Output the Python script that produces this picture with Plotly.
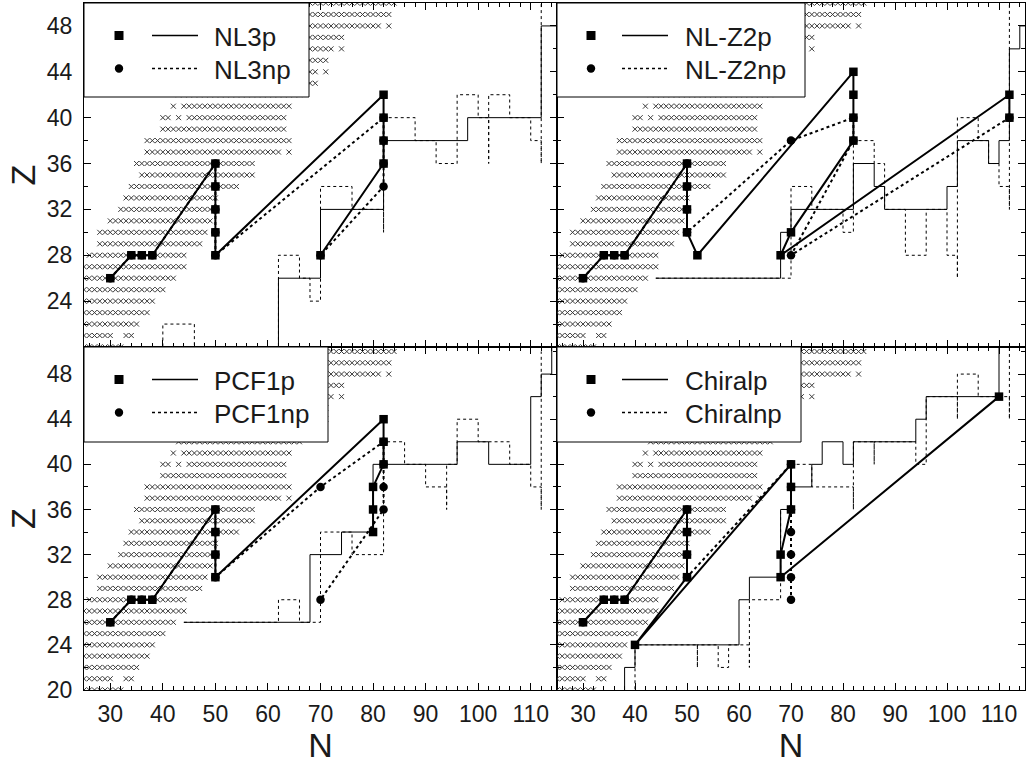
import plotly.graph_objects as go

# ---------------- data ----------------
# background: known nuclei rows, (Z, first N, last N)
known_segments = [
    (20, 25, 32),
    (21, 25, 30), (21, 33, 34),
    (22, 25, 35),
    (23, 25, 37),
    (24, 25, 38),
    (25, 25, 40),
    (26, 25, 42),
    (27, 25, 44),
    (28, 26, 44),
    (29, 28, 47),
    (30, 28, 48),
    (31, 30, 49),
    (32, 32, 49),
    (33, 33, 50),
    (34, 34, 54),
    (35, 36, 57),
    (36, 35, 57),
    (37, 37, 62), (37, 64, 64),
    (38, 37, 64),
    (39, 40, 63),
    (40, 40, 41), (40, 43, 43), (40, 45, 63),
    (41, 42, 42), (41, 44, 64),
    (42, 43, 66),
    (43, 45, 69),
    (44, 45, 69), (44, 71, 71),
    (45, 47, 71),
    (46, 47, 72), (46, 74, 74),
    (47, 49, 74),
    (48, 49, 81), (48, 83, 83),
    (49, 51, 83),
    (50, 50, 50), (50, 52, 52), (50, 54, 84),
]

# ---- NL3 (top left)
nl3_p_N = [30, 34, 36, 38, 50, 50, 50, 50, 50, 82, 82, 82, 82, 70]
nl3_p_Z = [26, 28, 28, 28, 36, 34, 32, 30, 28, 42, 40, 38, 36, 28]
nl3_np_N = [30, 34, 36, 38, 50, 50, 50, 50, 50, 82, 82, 82, 82, 70]
nl3_np_Z = [26, 28, 28, 28, 36, 34, 32, 30, 28, 40, 38, 36, 34, 28]
nl3_solid_N = [62, 62, 70, 70, 82, 82, 98, 98, 112, 112, 116]
nl3_solid_Z = [19, 26, 26, 32, 32, 38, 38, 40, 40, 48, 48]
nl3_dot_N = [40, 40, 46, 46, 62, 62, 66, 66, 68, 68, 70, 70, 76, 76, 82, 82, 82, 88, 88, 92, 92,
             96, 96, 100, 100, 102, 102, 102, 106, 106, 110, 110, 112, 112, 112]
nl3_dot_Z = [19, 22, 22, 20, 20, 28, 28, 26, 26, 24, 24, 34, 34, 32, 32, 30, 40, 40, 38, 38, 36,
             36, 42, 42, 40, 40, 36, 42, 42, 40, 40, 38, 38, 36, 50]

# ---- NL-Z2 (top right)
nlz2_p_N = [30, 34, 36, 38, 50, 50, 50, 50, 52, 82, 82, 82, 82, 70, 68, 112, 112]
nlz2_p_Z = [26, 28, 28, 28, 36, 34, 32, 30, 28, 44, 42, 40, 38, 30, 28, 42, 40]
nlz2_np_N = [30, 34, 36, 38, 50, 50, 50, 50, 70, 82, 82, 70, 112]
nlz2_np_Z = [26, 28, 28, 28, 36, 34, 32, 30, 38, 40, 38, 28, 40]
nlz2_solid_N = [44, 68, 68, 70, 70, 82, 82, 86, 86, 88, 88, 100, 100, 102, 102, 108, 108, 110, 110,
                112, 112, 114, 114, 116]
nlz2_solid_Z = [26, 26, 30, 30, 32, 32, 36, 36, 34, 34, 32, 32, 34, 34, 38, 38, 36, 36, 38,
                38, 46, 46, 48, 48]
nlz2_dot_N = [44, 70, 70, 74, 74, 80, 80, 82, 82, 86, 86, 88, 88, 92, 92, 96, 96, 100, 100, 102,
              102, 102, 106, 106, 108, 108, 110, 110, 112, 112, 112]
nlz2_dot_Z = [26, 26, 34, 34, 32, 32, 30, 30, 38, 38, 36, 36, 32, 32, 28, 28, 32, 32, 28, 28,
              26, 40, 40, 38, 38, 36, 36, 34, 34, 32, 50]

# ---- PCF1 (bottom left)
pcf1_p_N = [30, 34, 36, 38, 50, 50, 50, 50, 82, 82, 82, 80, 80, 80]
pcf1_p_Z = [26, 28, 28, 28, 36, 34, 32, 30, 44, 42, 40, 38, 36, 34]
pcf1_np_N = [30, 34, 36, 38, 50, 50, 50, 50, 70, 82, 82, 82, 82, 70]
pcf1_np_Z = [26, 28, 28, 28, 36, 34, 32, 30, 38, 42, 40, 38, 36, 28]
pcf1_solid_N = [44, 68, 68, 74, 74, 80, 80, 96, 96, 102, 102, 110, 110, 112, 112, 114, 114]
pcf1_solid_Z = [26, 26, 32, 32, 34, 34, 40, 40, 42, 42, 40, 40, 46, 46, 48, 48, 51]
pcf1_dot_N = [44, 62, 62, 66, 66, 70, 70, 76, 76, 82, 82, 86, 86, 90, 90, 94, 94, 94, 96, 96,
              100, 100, 106, 106, 110, 110, 112, 112, 112]
pcf1_dot_Z = [26, 26, 28, 28, 26, 26, 34, 34, 32, 32, 42, 42, 40, 40, 38, 38, 36, 40, 40, 44,
              44, 42, 42, 40, 40, 38, 38, 36, 50]

# ---- Chiral (bottom right)
chi_p_N = [30, 34, 36, 38, 50, 50, 50, 50, 40, 70, 70, 70, 68, 68, 110]
chi_p_Z = [26, 28, 28, 28, 36, 34, 32, 30, 24, 40, 38, 36, 32, 30, 46]
chi_np_N = [30, 34, 36, 38, 50, 50, 50, 50, 70, 70, 70, 70, 70, 70, 70]
chi_np_Z = [26, 28, 28, 28, 36, 34, 32, 30, 40, 38, 36, 34, 32, 30, 28]
chi_solid_N = [38, 38, 40, 40, 60, 60, 62, 62, 68, 68, 70, 70, 74, 74, 76, 76, 80, 80, 82, 82,
               94, 94, 96, 96, 110, 110]
chi_solid_Z = [19, 22, 22, 24, 24, 28, 28, 30, 30, 36, 36, 38, 38, 40, 40, 42, 42, 40, 40, 42,
               42, 44, 44, 46, 46, 51]
chi_dot_N = [40, 40, 52, 52, 52, 56, 56, 58, 58, 62, 62, 62, 68, 68, 70, 70, 74, 74, 82, 82, 82,
             86, 86, 86, 94, 94, 96, 96, 102, 102, 102, 106, 106, 112, 112, 112]
chi_dot_Z = [19, 24, 24, 22, 24, 24, 22, 22, 24, 24, 22, 28, 28, 36, 36, 40, 40, 38, 38, 36, 42,
             42, 40, 42, 42, 40, 40, 46, 46, 44, 48, 48, 46, 46, 44, 51]

x_tick_vals = [30, 40, 50, 60, 70, 80, 90, 100, 110]
top_y_ticks = [24, 28, 32, 36, 40, 44, 48]
bottom_y_ticks = [20, 24, 28, 32, 36, 40, 44, 48]

legend_labels = [("NL3p", "NL3np"), ("NL-Z2p", "NL-Z2np"),
                 ("PCF1p", "PCF1np"), ("Chiralp", "Chiralnp")]

# ---------------- figure ----------------
W, H = 1026, 764
ML, MR, MT, MB = 84, 1, 3, 74
FONT = "Liberation Sans, Arial, Helvetica, sans-serif"
dx = 473 / 941
dy = 343 / 687

fig = go.Figure()

bgN, bgZ = [], []
for z, n0, n1 in known_segments:
    for n in range(n0, n1 + 1):
        bgN.append(n)
        bgZ.append(z)


def add_panel(xa, ya, sN, sZ, dN, dZ, pN, pZ, nN, nZ):
    fig.add_trace(go.Scatter(
        x=bgN, y=bgZ, xaxis=xa, yaxis=ya, mode="markers", hoverinfo="skip",
        marker=dict(symbol="x-thin", size=5, color="#3a3a3a",
                    line=dict(width=1, color="#3a3a3a"))))
    fig.add_trace(go.Scatter(x=sN, y=sZ, xaxis=xa, yaxis=ya, mode="lines",
                             line=dict(color="black", width=1)))
    fig.add_trace(go.Scatter(x=dN, y=dZ, xaxis=xa, yaxis=ya, mode="lines",
                             line=dict(color="black", width=1, dash="dot")))
    fig.add_trace(go.Scatter(x=nN, y=nZ, xaxis=xa, yaxis=ya, mode="lines+markers",
                             line=dict(color="black", width=2, dash="dot"),
                             marker=dict(symbol="circle", size=8.5, color="black")))
    fig.add_trace(go.Scatter(x=pN, y=pZ, xaxis=xa, yaxis=ya, mode="lines+markers",
                             line=dict(color="black", width=2),
                             marker=dict(symbol="square", size=8.5, color="black")))


add_panel("x", "y", nl3_solid_N, nl3_solid_Z, nl3_dot_N, nl3_dot_Z,
          nl3_p_N, nl3_p_Z, nl3_np_N, nl3_np_Z)
add_panel("x2", "y2", nlz2_solid_N, nlz2_solid_Z, nlz2_dot_N, nlz2_dot_Z,
          nlz2_p_N, nlz2_p_Z, nlz2_np_N, nlz2_np_Z)
add_panel("x3", "y3", pcf1_solid_N, pcf1_solid_Z, pcf1_dot_N, pcf1_dot_Z,
          pcf1_p_N, pcf1_p_Z, pcf1_np_N, pcf1_np_Z)
add_panel("x4", "y4", chi_solid_N, chi_solid_Z, chi_dot_N, chi_dot_Z,
          chi_p_N, chi_p_Z, chi_np_N, chi_np_Z)

tickfont = dict(family=FONT, size=23, color="#1a1a1a")
titlefont = dict(family=FONT, size=34, color="#1a1a1a")
common = dict(showline=True, linecolor="black", linewidth=1, mirror="ticks",
              ticks="inside", ticklen=7, tickcolor="black", tickwidth=1,
              showgrid=False, zeroline=False, tickfont=tickfont, tickmode="array")
x_minor = dict(tickvals=list(range(26, 115, 2)), ticks="inside", ticklen=4,
               tickcolor="black", showgrid=False)
y_minor = dict(tickvals=list(range(20, 51, 2)), ticks="inside", ticklen=4,
               tickcolor="black", showgrid=False)

xcfg = dict(range=[25, 115], tickvals=x_tick_vals, minor=x_minor, ticklabelstandoff=3, **common)
fig.update_layout(
    xaxis=dict(domain=[0, dx], anchor="y", showticklabels=False, **xcfg),
    xaxis2=dict(domain=[dx, 1], anchor="y2", showticklabels=False, **xcfg),
    xaxis3=dict(domain=[0, dx], anchor="y3",
                title=dict(text="N", font=titlefont, standoff=6), **xcfg),
    xaxis4=dict(domain=[dx, 1], anchor="y4",
                title=dict(text="N", font=titlefont, standoff=6), **xcfg),
    yaxis=dict(domain=[dy, 1], anchor="x", range=[20, 50], tickvals=top_y_ticks,
               minor=y_minor, ticklabelstandoff=6,
               title=dict(text="Z", font=titlefont, standoff=0), **common),
    yaxis2=dict(domain=[dy, 1], anchor="x2", range=[20, 50], tickvals=top_y_ticks,
                minor=y_minor, showticklabels=False, **common),
    yaxis3=dict(domain=[0, dy], anchor="x3", range=[20, 50.4], tickvals=bottom_y_ticks,
                minor=y_minor, ticklabelstandoff=6,
                title=dict(text="Z", font=titlefont, standoff=0), **common),
    yaxis4=dict(domain=[0, dy], anchor="x4", range=[20, 50.4], tickvals=bottom_y_ticks,
                minor=y_minor, showticklabels=False, **common),
)


def fx(px):
    return (px - ML) / (W - ML - MR)


def fy(py):
    return (H - MB - py) / (H - MT - MB)


shapes, annotations = [], []
# (panel left px, panel top px, box width, box height, marker dx, line x0, line x1, text dx)
legend_geom = [(84, 3, 225, 94, 35, 68, 114, 128),
               (557, 3, 248, 94, 34, 65, 111, 126),
               (84, 347, 244, 95, 35, 68, 114, 128),
               (557, 347, 244, 95, 34, 65, 111, 126)]
for (L, T, bw, bh, mdx, l0, l1, tdx), (lab_p, lab_np) in zip(legend_geom, legend_labels):
    shapes.append(dict(type="rect", xref="paper", yref="paper", layer="above",
                       x0=fx(L), x1=fx(L + bw), y0=fy(T), y1=fy(T + bh),
                       line=dict(color="black", width=1), fillcolor="white"))
    for row, (lab, dash, sym) in enumerate([(lab_p, "solid", "rect"), (lab_np, "dot", "circle")]):
        yc = T + 32.5 + 33 * row
        s = 4.5 if sym == "rect" else 4.2
        shapes.append(dict(type=sym, xref="paper", yref="paper", layer="above",
                           x0=fx(L + mdx - s), x1=fx(L + mdx + s),
                           y0=fy(yc - s), y1=fy(yc + s),
                           line=dict(color="black", width=0), fillcolor="black"))
        shapes.append(dict(type="line", xref="paper", yref="paper", layer="above",
                           x0=fx(L + l0), x1=fx(L + l1), y0=fy(yc), y1=fy(yc),
                           line=dict(color="black", width=1.5, dash=dash)))
        annotations.append(dict(text=lab, xref="paper", yref="paper", showarrow=False,
                                x=fx(L + tdx), y=fy(yc + 1), xanchor="left", yanchor="middle",
                                font=dict(family=FONT, size=26, color="#1a1a1a")))

fig.update_layout(
    width=W, height=H, margin=dict(l=ML, r=MR, t=MT, b=MB),
    paper_bgcolor="white", plot_bgcolor="white", showlegend=False,
    shapes=shapes, annotations=annotations,
)

fig.write_html("out.html", config={"displayModeBar": False},
               post_script="document.body.style.margin='0px';")
